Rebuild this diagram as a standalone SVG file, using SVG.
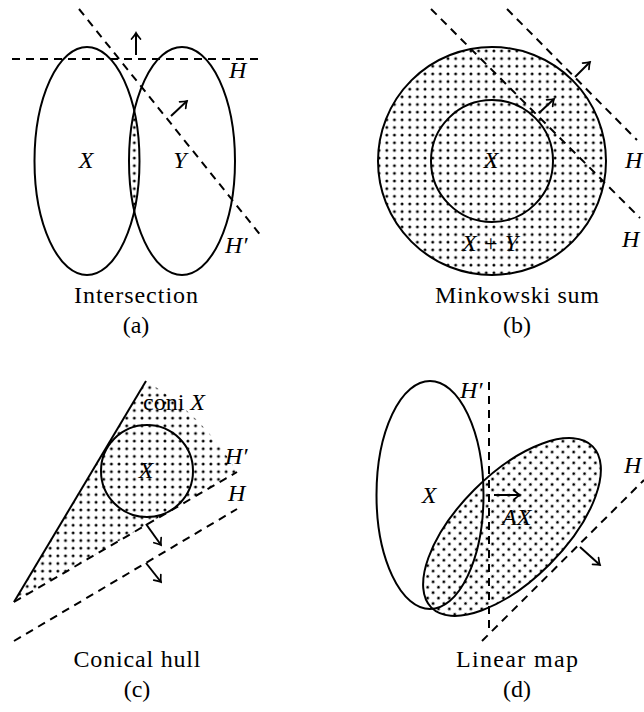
<svg xmlns="http://www.w3.org/2000/svg" width="644" height="712" viewBox="0 0 644 712">
<style>
.s{fill:none;stroke:#000;stroke-width:2}
.d{fill:none;stroke:#000;stroke-width:2;stroke-dasharray:8 6}
.a{fill:none;stroke:#000;stroke-width:2;marker-end:url(#tip)}
.dot{fill:url(#dots)}
.cap{font-family:"Liberation Serif","DejaVu Serif",serif;font-size:24px;fill:#000;text-anchor:middle}
.m{font-family:"Liberation Serif","DejaVu Serif",serif;font-size:24px;font-style:italic;fill:#000}
.mc{text-anchor:middle}
</style>
<defs>
<pattern id="dots" patternUnits="userSpaceOnUse" x="0.5" y="1.2" width="7.65" height="7.65">
<circle cx="3.8" cy="3.8" r="1.45" fill="#000"/>
</pattern>
<marker id="tip" markerUnits="userSpaceOnUse" viewBox="-8 -6 10 12" refX="0" refY="0" markerWidth="10" markerHeight="12" orient="auto">
<path d="M-6,-4.5 Q-2,-1 0,0 Q-2,1 -6,4.5" fill="none" stroke="#000" stroke-width="1.7" stroke-linecap="round"/>
</marker>
<clipPath id="clipXa"><ellipse cx="87" cy="161" rx="52.5" ry="114"/></clipPath>
</defs>

<g id="panel-a">
<ellipse cx="182" cy="161" rx="53" ry="114" class="dot" clip-path="url(#clipXa)"/>
<ellipse cx="87" cy="161" rx="52.5" ry="114" class="s"/>
<ellipse cx="182" cy="161" rx="53" ry="114" class="s"/>
<text class="m mc" x="86" y="168">X</text>
<text class="m mc" x="180" y="168">Y</text>
<text class="m" x="229" y="78">H</text>
<text class="m" x="225" y="253">H′</text>
<text class="cap" x="136" y="303" textLength="124">Intersection</text>
<text class="cap" x="136" y="333">(a)</text>
</g>

<g id="panel-b">
<text class="m mc" x="491" y="168">X</text>
<text class="m mc" x="490" y="251">X + Y</text>
<circle cx="492" cy="161" r="114" class="dot"/>
<circle cx="492" cy="161" r="114" class="s"/>
<circle cx="492" cy="161" r="61" class="s"/>
<text class="m" x="625" y="168">H</text>
<text class="m" x="622" y="247">H</text>
<text class="cap" x="517" y="303" textLength="164">Minkowski sum</text>
<text class="cap" x="517" y="333">(b)</text>
</g>

<g id="panel-c">
<path d="M14,602 L146,381 A258,258 0 0 1 237,472 Z" class="dot"/>
<line x1="14" y1="602" x2="146" y2="381" class="s"/>
<circle cx="147" cy="471" r="46" class="s"/>
<text class="m" x="143" y="410"><tspan style="font-style:normal">coni </tspan>X</text>
<text class="m mc" x="146" y="478">X</text>
<text class="m" x="225" y="464">H′</text>
<text class="m" x="228" y="501">H</text>
<text class="cap" x="137" y="667" textLength="127">Conical hull</text>
<text class="cap" x="137" y="697">(c)</text>
</g>

<g id="panel-d">
<ellipse cx="512" cy="527" rx="114" ry="53" transform="rotate(-45 512 527)" class="dot"/>
<ellipse cx="430" cy="495" rx="53.5" ry="114" class="s"/>
<ellipse cx="512" cy="527" rx="114" ry="53" transform="rotate(-45 512 527)" class="s"/>
<text class="m mc" x="429" y="503">X</text>
<text class="m" x="502" y="525">AX</text>
<text class="m" x="460" y="398">H′</text>
<text class="m" x="624" y="473">H</text>
<text class="cap" x="517" y="667" textLength="122">Linear map</text>
<text class="cap" x="517" y="697">(d)</text>
</g>

<g id="connectors">
<line x1="12" y1="59" x2="259" y2="59" class="d"/>
<line x1="79" y1="9" x2="262" y2="237" class="d"/>
<line x1="136" y1="55" x2="136" y2="33" class="a"/>
<line x1="171" y1="116" x2="187" y2="101" class="a"/>

<line x1="431" y1="9" x2="640" y2="218" class="d"/>
<line x1="507" y1="9" x2="637" y2="140" class="d"/>
<line x1="575" y1="77" x2="590" y2="62" class="a"/>
<line x1="539" y1="113" x2="554" y2="99" class="a"/>

<line x1="14" y1="602" x2="237" y2="472" class="d"/>
<line x1="14" y1="641" x2="237" y2="509" class="d"/>
<line x1="146" y1="524" x2="161" y2="545" class="a"/>
<line x1="146" y1="563" x2="161" y2="582" class="a"/>

<line x1="489" y1="382" x2="489" y2="632" class="d"/>
<line x1="482" y1="641" x2="644" y2="480" class="d"/>
<line x1="494" y1="495" x2="520" y2="495" class="a"/>
<line x1="580" y1="547" x2="600" y2="565" class="a"/>
</g>
</svg>
